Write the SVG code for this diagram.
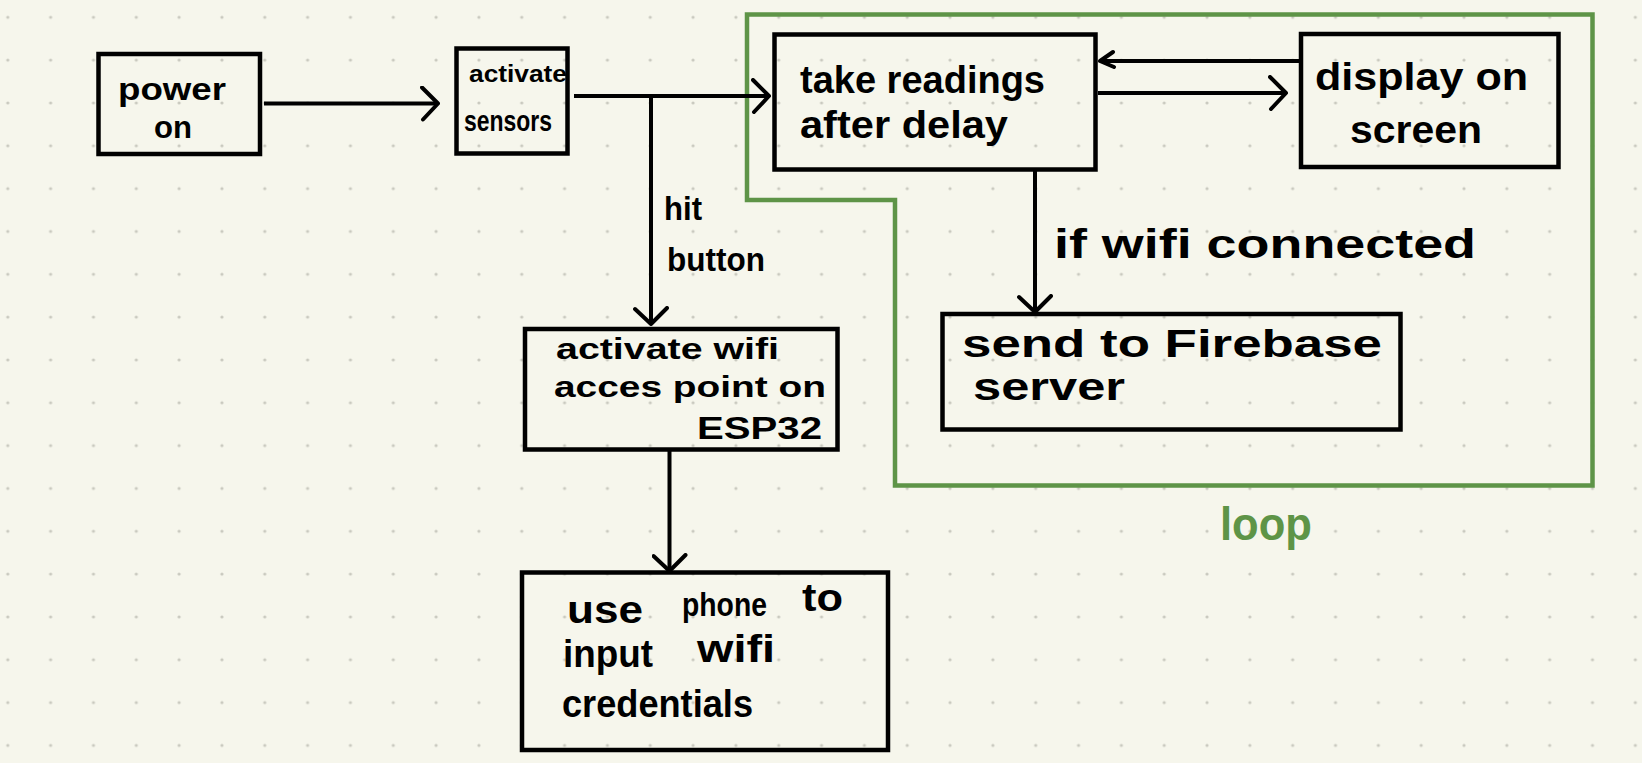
<svg xmlns="http://www.w3.org/2000/svg" width="1642" height="763" viewBox="0 0 1642 763">
<style>
.box{fill:none;stroke:#000;stroke-width:4.5;stroke-linejoin:miter}
.ln{fill:none;stroke:#000;stroke-width:4}
.t{font-family:"Liberation Sans","DejaVu Sans",sans-serif;fill:#000;font-weight:bold}
.loop{fill:none;stroke:#5e9447;stroke-width:4.5}
</style>
<defs>
<pattern id="dots" x="7.8" y="17.3" width="42.83" height="42.83" patternUnits="userSpaceOnUse">
<circle cx="0" cy="0" r="1.6" fill="#c9c9bf"/>
<circle cx="42.83" cy="0" r="1.6" fill="#c9c9bf"/>
<circle cx="0" cy="42.83" r="1.6" fill="#c9c9bf"/>
<circle cx="42.83" cy="42.83" r="1.6" fill="#c9c9bf"/>
</pattern>
<marker id="chev" viewBox="0 0 20 36" markerWidth="20" markerHeight="36" refX="18" refY="18" orient="auto" markerUnits="userSpaceOnUse">
<path d="M2,2 L18,18 L3,34" fill="none" stroke="#000" stroke-width="4" stroke-linecap="round" stroke-linejoin="round"/>
</marker>
<marker id="chevs" viewBox="0 0 20 20" markerWidth="20" markerHeight="20" refX="17" refY="8" orient="auto" markerUnits="userSpaceOnUse">
<path d="M3,2 L17,8 L4,17" fill="none" stroke="#000" stroke-width="4" stroke-linecap="round" stroke-linejoin="round"/>
</marker>
</defs>
<rect width="1642" height="763" fill="#f6f6ec"/>
<rect width="1642" height="763" fill="url(#dots)"/>

<g id="loop-region">
<path class="loop" d="M747,14.5 H1592.5 V485.5 H895 V200 H747 Z"/>
<text class="t" x="1220" y="540" font-size="46" style="fill:#5e9447" textLength="92" lengthAdjust="spacingAndGlyphs">loop</text>
</g>

<g id="connectors">
<path class="ln" d="M264,103.5 H438" marker-end="url(#chev)"/>
<path class="ln" d="M574,96 H769" marker-end="url(#chev)"/>
<path class="ln" d="M651,96 V324" marker-end="url(#chev)"/>
<path class="ln" d="M1098,93 H1286" marker-end="url(#chev)"/>
<path class="ln" d="M1300,61 H1100" marker-end="url(#chevs)"/>
<path class="ln" d="M1035,170 V312" marker-end="url(#chev)"/>
<path class="ln" d="M669.5,449 V571" marker-end="url(#chev)"/>
<text class="t" x="664" y="220" font-size="34" textLength="38" lengthAdjust="spacingAndGlyphs">hit</text>
<text class="t" x="667" y="271" font-size="34" textLength="98" lengthAdjust="spacingAndGlyphs">button</text>
<text class="t" x="1054" y="258" font-size="40" textLength="422" lengthAdjust="spacingAndGlyphs">if wifi connected</text>
</g>

<g id="node-power-on">
<rect class="box" x="98.5" y="54" width="161.5" height="100"/>
<text class="t" x="118" y="100" font-size="32" textLength="108" lengthAdjust="spacingAndGlyphs">power</text>
<text class="t" x="154" y="138" font-size="32" textLength="38" lengthAdjust="spacingAndGlyphs">on</text>
</g>

<g id="node-activate-sensors">
<rect class="box" x="456.5" y="48.5" width="111" height="105"/>
<text class="t" x="469" y="82" font-size="24" textLength="98" lengthAdjust="spacingAndGlyphs">activate</text>
<text class="t" x="464" y="131" font-size="30" textLength="88" lengthAdjust="spacingAndGlyphs">sensors</text>
</g>

<g id="node-take-readings">
<rect class="box" x="774.5" y="34.5" width="321" height="135"/>
<text class="t" x="800" y="93" font-size="38" textLength="245" lengthAdjust="spacingAndGlyphs">take readings</text>
<text class="t" x="800" y="138" font-size="38" textLength="208" lengthAdjust="spacingAndGlyphs">after delay</text>
</g>

<g id="node-display">
<rect class="box" x="1301" y="34" width="257.5" height="133"/>
<text class="t" x="1315" y="90" font-size="38" textLength="213" lengthAdjust="spacingAndGlyphs">display on</text>
<text class="t" x="1350" y="143" font-size="38" textLength="132" lengthAdjust="spacingAndGlyphs">screen</text>
</g>

<g id="node-send-firebase">
<rect class="box" x="942.5" y="314" width="458" height="115.5"/>
<text class="t" x="962" y="357" font-size="38" textLength="420" lengthAdjust="spacingAndGlyphs">send to Firebase</text>
<text class="t" x="973" y="400" font-size="38" textLength="152" lengthAdjust="spacingAndGlyphs">server</text>
</g>

<g id="node-activate-wifi">
<rect class="box" x="525" y="329" width="312.5" height="120.5"/>
<text class="t" x="556" y="359" font-size="30" textLength="223" lengthAdjust="spacingAndGlyphs">activate wifi</text>
<text class="t" x="554" y="397" font-size="30" textLength="272" lengthAdjust="spacingAndGlyphs">acces point on</text>
<text class="t" x="697" y="439" font-size="32" textLength="125" lengthAdjust="spacingAndGlyphs">ESP32</text>
</g>

<g id="node-use-phone">
<rect class="box" x="522" y="572.5" width="366" height="177.5"/>
<text class="t" x="567" y="623" font-size="38" textLength="76" lengthAdjust="spacingAndGlyphs">use</text>
<text class="t" x="682" y="616" font-size="34" textLength="85" lengthAdjust="spacingAndGlyphs">phone</text>
<text class="t" x="802" y="611" font-size="38" textLength="41" lengthAdjust="spacingAndGlyphs">to</text>
<text class="t" x="563" y="667" font-size="38" textLength="90" lengthAdjust="spacingAndGlyphs">input</text>
<text class="t" x="697" y="662" font-size="38" textLength="78" lengthAdjust="spacingAndGlyphs">wifi</text>
<text class="t" x="562" y="717" font-size="38" textLength="191" lengthAdjust="spacingAndGlyphs">credentials</text>
</g>
</svg>
